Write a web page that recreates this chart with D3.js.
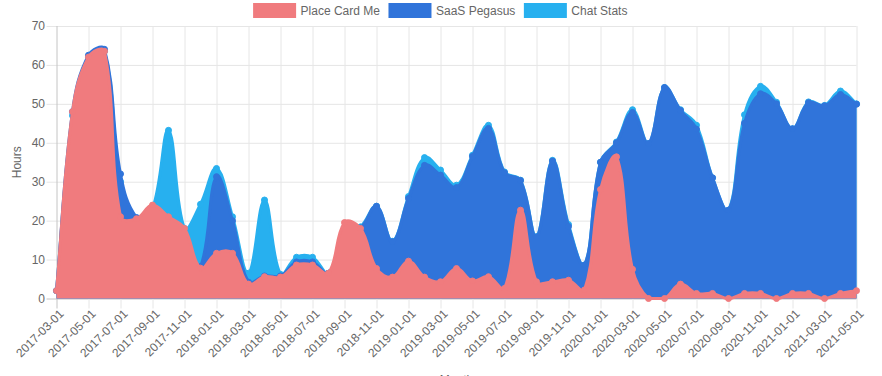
<!DOCTYPE html>
<html>
<head>
<meta charset="utf-8">
<script src="https://cdn.jsdelivr.net/npm/d3@7"></script>
<style>
  body { margin: 0; background: #fff; }
  text { font-family: "Liberation Sans", Arial, Helvetica, sans-serif; }
</style>
</head>
<body>
<div id="root"></div>
<script>
const months = [
  "2017-03-01","2017-04-01","2017-05-01","2017-06-01","2017-07-01","2017-08-01","2017-09-01","2017-10-01","2017-11-01","2017-12-01",
  "2018-01-01","2018-02-01","2018-03-01","2018-04-01","2018-05-01","2018-06-01","2018-07-01","2018-08-01","2018-09-01","2018-10-01",
  "2018-11-01","2018-12-01","2019-01-01","2019-02-01","2019-03-01","2019-04-01","2019-05-01","2019-06-01","2019-07-01","2019-08-01",
  "2019-09-01","2019-10-01","2019-11-01","2019-12-01","2020-01-01","2020-02-01","2020-03-01","2020-04-01","2020-05-01","2020-06-01",
  "2020-07-01","2020-08-01","2020-09-01","2020-10-01","2020-11-01","2020-12-01","2021-01-01","2021-02-01","2021-03-01","2021-04-01",
  "2021-05-01"
]

const placeCardMe = [
  2, 48, 62, 63.5, 21, 20.5, 24, 21, 18, 7.8,
  11.6, 11.6, 3.7, 5.6, 5.5, 8.6, 8.6, 6.5, 19.5, 18,
  7.7, 5.5, 9.6, 5.5, 4.3, 7.7, 4.5, 5.6, 2.6, 22.7,
  4.3, 4.3, 4.7, 2.2, 28, 36.4, 7.5, 0, 0, 3.7,
  1.3, 1.3, 0, 1.3, 1.3, 0, 1.3, 1.3, 0, 1.3,
  2
]

const saasPegasus = [
  2, 48, 62.5, 64, 32, 20.8, 21, 19, 12, 8.2,
  31.3, 20, 4.2, 5.8, 5.8, 9.4, 9.4, 6.5, 17, 18.1,
  23.7, 14.6, 25.7, 34.2, 31.7, 28.5, 36.5, 43.7, 32.3, 30.3,
  15.8, 35.3, 18.5, 8.6, 35, 40, 47.8, 39.8, 54.2, 48.3,
  43.5, 31, 22.7, 45, 52.6, 50, 43.6, 50.3, 49.5, 52.4,
  49.9
]

const chatStats = [
  2, 47, 62, 63.5, 30, 20, 23, 43.2, 18, 24.2,
  33.4, 21, 6.5, 25.3, 6.2, 10.6, 10.6, 6.5, 17, 18.4,
  23.7, 14.7, 26.2, 36.2, 33, 29.1, 36.8, 44.5, 32.5, 30.4,
  15.9, 35.5, 19, 8.6, 35, 40.2, 48.5, 39.8, 54.2, 48.5,
  44.5, 31, 22.7, 47.2, 54.5, 50.4, 43.6, 50.5, 49.6, 53.3,
  50
]

const yTicks = [0, 10, 20, 30, 40, 50, 60, 70]
const seriesNames = ["Place Card Me", "SaaS Pegasus", "Chat Stats"]
const seriesColors = ["#f07b7e", "#3074da", "#27b0ef"]
const seriesValues = [placeCardMe, saasPegasus, chatStats]

const w = 882, h = 376
const areaLeft = 56.5, areaRight = 856.5, areaTop = 26, areaBottom = 298.5

const x = d3.scalePoint().domain(months).range([areaLeft, areaRight])
const y = d3.scaleLinear().domain([0, 70]).range([areaBottom, areaTop])

const tickMonths = months.filter((d, i) => i % 2 == 0)

const svg = d3.select("#root").append("svg")
  .attr("width", w)
  .attr("height", h)

// grid
svg.append("g")
  .attr("transform", `translate(${areaLeft},0)`)
  .call(d3.axisLeft(y).tickValues(yTicks).tickSize(-(areaRight - areaLeft)).tickFormat(""))
  .call(g => g.select(".domain").remove())
  .call(g => g.selectAll(".tick line")
    .attr("x1", -10)
    .attr("stroke", d => d == 0 ? "#c4c4c4" : "#e6e6e6"))

svg.append("g")
  .attr("transform", `translate(0,${areaBottom})`)
  .call(d3.axisBottom(x).tickValues(tickMonths).tickSize(-(areaBottom - areaTop)).tickFormat(""))
  .call(g => g.select(".domain").remove())
  .call(g => g.selectAll(".tick line")
    .attr("y1", 10)
    .attr("stroke", (d, i) => i == 0 ? "#c4c4c4" : "#e6e6e6"))

// y labels
svg.append("g")
  .selectAll("text").data(yTicks).enter().append("text")
  .attr("x", 45)
  .attr("y", d => y(d))
  .attr("dy", "0.35em")
  .attr("text-anchor", "end")
  .attr("font-size", 12)
  .attr("fill", "#666")
  .text(d => d)

// x labels
svg.append("g")
  .selectAll("text").data(tickMonths).enter().append("text")
  .attr("transform", d => `translate(${x(d) + 5},${areaBottom + 13}) rotate(-45)`)
  .attr("dy", "0.35em")
  .attr("text-anchor", "end")
  .attr("font-size", 12)
  .attr("fill", "#666")
  .text(d => d)

// axis titles
svg.append("text")
  .attr("transform", `translate(21,${(areaTop + areaBottom) / 2}) rotate(-90)`)
  .attr("text-anchor", "middle")
  .attr("font-size", 12)
  .attr("fill", "#666")
  .text("Hours")

svg.append("text")
  .attr("x", (areaLeft + areaRight) / 2)
  .attr("y", 384)
  .attr("text-anchor", "middle")
  .attr("font-size", 12)
  .attr("fill", "#666")
  .text("Month")

// chart.js style spline with tension 0.4, control points capped to the chart area
function splinePoints(vals) {
  const pts = vals.map((v, i) => ({ x: x(months[i]), y: y(v) }))
  const t = 0.4
  const cx = v => Math.max(areaLeft, Math.min(areaRight, v))
  const cy = v => Math.max(areaTop, Math.min(areaBottom, v))
  const cps = pts.map((c, i) => {
    const p = pts[i - 1] || c, n = pts[i + 1] || c
    const d01 = Math.hypot(c.x - p.x, c.y - p.y)
    const d12 = Math.hypot(n.x - c.x, n.y - c.y)
    let s01 = d01 / (d01 + d12), s12 = d12 / (d01 + d12)
    if (Number.isNaN(s01)) s01 = 0
    if (Number.isNaN(s12)) s12 = 0
    const fa = t * s01, fb = t * s12
    return {
      px: cx(c.x - fa * (n.x - p.x)), py: cy(c.y - fa * (n.y - p.y)),
      nx: cx(c.x + fb * (n.x - p.x)), ny: cy(c.y + fb * (n.y - p.y))
    }
  })
  let d = `M${pts[0].x},${pts[0].y}`
  for (let i = 1; i < pts.length; i++) {
    d += `C${cps[i - 1].nx},${cps[i - 1].ny} ${cps[i].px},${cps[i].py} ${pts[i].x},${pts[i].y}`
  }
  return { d, pts }
}

// datasets drawn back to front: Chat Stats, SaaS Pegasus, Place Card Me
const series = svg.append("g")
for (let s = seriesValues.length - 1; s >= 0; s--) {
  const color = seriesColors[s]
  const sp = splinePoints(seriesValues[s])
  const first = sp.pts[0], last = sp.pts[sp.pts.length - 1]
  const g = series.append("g")
  g.append("path")
    .attr("d", sp.d + `L${last.x},${y(0)}L${first.x},${y(0)}Z`)
    .attr("fill", color)
  g.append("path")
    .attr("d", sp.d)
    .attr("fill", "none")
    .attr("stroke", color)
    .attr("stroke-width", 3)
  g.selectAll("circle").data(sp.pts).enter().append("circle")
    .attr("cx", d => d.x)
    .attr("cy", d => d.y)
    .attr("r", 3)
    .attr("fill", color)
    .attr("stroke", color)
}

// legend
const legend = svg.append("g")
const items = legend.selectAll("g").data(seriesNames).enter().append("g")
items.append("rect")
  .attr("width", 40).attr("height", 12)
  .attr("fill", (d, i) => seriesColors[i])
  .attr("stroke", (d, i) => seriesColors[i])
  .attr("stroke-width", 3)
items.append("text")
  .attr("x", 46)
  .attr("y", 10)
  .attr("font-size", 12)
  .attr("fill", "#666")
  .text(d => d)
let widths = []
items.each(function () {
  widths.push(46 + d3.select(this).select("text").node().getComputedTextLength())
})
const total = d3.sum(widths) + 10 * (widths.length - 1)
let pos = (w - total) / 2
items.attr("transform", (d, i) => {
  const tr = `translate(${pos},4.5)`
  pos += widths[i] + 10
  return tr
})
</script>
</body>
</html>
